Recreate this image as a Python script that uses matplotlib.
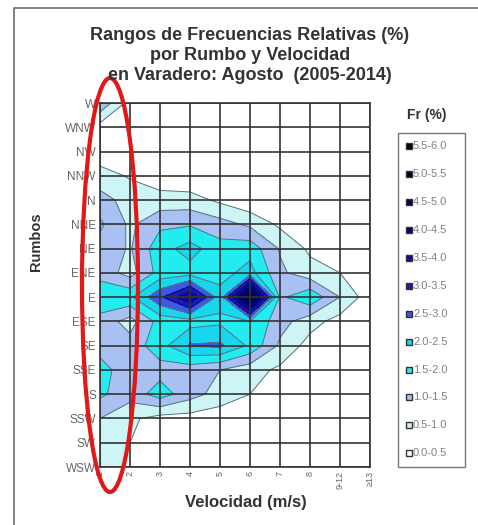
import numpy as np
import matplotlib
matplotlib.use("Agg")
import matplotlib.pyplot as plt
from matplotlib.patches import Rectangle, Ellipse
from matplotlib.lines import Line2D

plt.rcParams['font.family'] = ['Liberation Sans', 'DejaVu Sans']

rumbos = ["W", "WNW", "NW", "NNW", "N", "NNE", "NE", "ENE",
          "E", "ESE", "SE", "SSE", "S", "SSW", "SW", "WSW"]
velocidades = ["1", "2", "3", "4", "5", "6", "7", "8", "9-12", "≥13"]

# relative frequency (%) per direction (rows) and speed class (columns)
fr_W   = [1.4, 0.3, 0.0, 0.0, 0.0, 0.0, 0.0, 0.0, 0.0, 0.0]
fr_WNW = [0.3, 0.1, 0.0, 0.0, 0.0, 0.0, 0.0, 0.0, 0.0, 0.0]
fr_NW  = [0.2, 0.1, 0.0, 0.0, 0.0, 0.0, 0.0, 0.0, 0.0, 0.0]
fr_NNW = [0.7, 0.45, 0.2, 0.1, 0.0, 0.0, 0.0, 0.0, 0.0, 0.0]
fr_N   = [1.2, 0.8, 0.7, 0.7, 0.4, 0.1, 0.0, 0.0, 0.0, 0.0]
fr_NNE = [1.6, 0.9, 1.4, 1.45, 1.2, 0.9, 0.4, 0.1, 0.0, 0.0]
fr_NE  = [1.3, 0.95, 1.8, 2.2, 1.7, 1.8, 0.95, 0.4, 0.1, 0.0]
fr_ENE = [1.3, 0.8, 1.7, 1.8, 1.8, 2.2, 1.1, 0.7, 0.5, 0.1]
fr_E   = [1.9, 1.9, 2.9, 4.0, 2.2, 5.6, 1.4, 1.9, 1.0, 0.2]
fr_ESE = [1.3, 0.8, 1.7, 1.8, 1.9, 2.0, 1.2, 0.7, 0.3, 0.0]
fr_SE  = [1.3, 1.2, 1.8, 2.55, 2.6, 1.9, 0.9, 0.3, 0.0, 0.0]
fr_SSE = [1.7, 1.2, 1.3, 1.2, 1.0, 0.7, 0.4, 0.1, 0.0, 0.0]
fr_S   = [1.6, 1.2, 1.75, 1.2, 0.8, 0.5, 0.2, 0.0, 0.0, 0.0]
fr_SSW = [1.0, 0.6, 0.3, 0.3, 0.2, 0.1, 0.0, 0.0, 0.0, 0.0]
fr_SW  = [0.9, 0.5, 0.1, 0.0, 0.0, 0.0, 0.0, 0.0, 0.0, 0.0]
fr_WSW = [0.8, 0.4, 0.0, 0.0, 0.0, 0.0, 0.0, 0.0, 0.0, 0.0]

rows = [fr_W, fr_WNW, fr_NW, fr_NNW, fr_N, fr_NNE, fr_NE, fr_ENE,
        fr_E, fr_ESE, fr_SE, fr_SSE, fr_S, fr_SSW, fr_SW, fr_WSW]
Z = np.array(rows)

levels = np.arange(0, 6.01, 0.5)
level_labels = ["0.0-0.5", "0.5-1.0", "1.0-1.5", "1.5-2.0", "2.0-2.5", "2.5-3.0",
                "3.0-3.5", "3.5-4.0", "4.0-4.5", "4.5-5.0", "5.0-5.5", "5.5-6.0"]
band_colors = ["#ffffff", "#cdf5f5", "#a8c0f2", "#22ecf0", "#18d6ee", "#3a5ae4",
               "#1a1ab4", "#0a0a96", "#000078", "#000058", "#000030", "#000000"]

W, H = 478, 525
fig = plt.figure(figsize=(W / 100, H / 100), dpi=100)

# outer frame (left and top edges visible)
fig.add_artist(Line2D([14 / W, 14 / W, 1.0], [0.0, 1 - 8 / H, 1 - 8 / H],
                      transform=fig.transFigure, color="#777777", linewidth=1.3))

ax = fig.add_axes([100 / W, 1 - 467 / H, 270 / W, 364 / H])
x = np.arange(len(velocidades))
y = np.arange(len(rumbos))
X, Y = np.meshgrid(x, y)
ax.contourf(X, Y, Z, levels=levels, colors=band_colors)
ax.contour(X, Y, Z, levels=levels[1:6], colors="#5f7080", linewidths=0.7)
ax.contour(X, Y, Z, levels=levels[6:12], colors="#0a0a70", linewidths=0.6)
ax.set_xlim(0, len(velocidades) - 1)
ax.set_ylim(len(rumbos) - 1, 0)
ax.set_xticks(x)
ax.set_xticklabels(velocidades, rotation=90, fontsize=6.5, color="#666666")
ax.set_yticks(y)
ax.set_yticklabels(rumbos, fontsize=8.5, color="#666666")
ax.tick_params(length=0, pad=3)
ax.grid(True, color="#333333", linewidth=1.2)
ax.set_axisbelow(False)
for s in ax.spines.values():
    s.set_color("#333333")
    s.set_linewidth(1.2)

for txt, yy in [("Rangos de Frecuencias Relativas (%)", 35),
                ("por Rumbo y Velocidad", 55.5),
                ("en Varadero: Agosto  (2005-2014)", 76)]:
    fig.text(250 / W, 1 - yy / H, txt, ha="center", va="center",
             fontsize=13, fontweight="bold", color="#333333")
fig.text(36 / W, 1 - 242 / H, "Rumbos", rotation=90, ha="center", va="center",
         fontsize=10.5, fontweight="bold", color="#333333")
fig.text(246 / W, 1 - 502 / H, "Velocidad (m/s)", ha="center", va="center",
         fontsize=12, fontweight="bold", color="#333333")
fig.text(427 / W, 1 - 115 / H, "Fr (%)", ha="center", va="center",
         fontsize=10, fontweight="bold", color="#333333")

# legend
fig.add_artist(Rectangle((398 / W, 1 - 467 / H), 67 / W, 334 / H, transform=fig.transFigure,
                         fill=False, edgecolor="#777777", linewidth=1.0))
for i in range(len(level_labels)):
    k = len(level_labels) - 1 - i
    yy = 146 + i * 27.94
    fig.add_artist(Rectangle((406 / W, 1 - (yy + 3) / H), 6 / W, 6 / H, transform=fig.transFigure,
                             facecolor=band_colors[k], edgecolor="#333333", linewidth=1.0))
    fig.text(413 / W, 1 - yy / H, level_labels[k], ha="left", va="center",
             fontsize=8, color="#808080")

# red ellipse annotation
fig.add_artist(Ellipse((110 / W, 1 - 285 / H), 56 / W, 414 / H, transform=fig.transFigure,
                       fill=False, edgecolor="#e01818", linewidth=3))

fig.savefig("out.png", dpi=100)
